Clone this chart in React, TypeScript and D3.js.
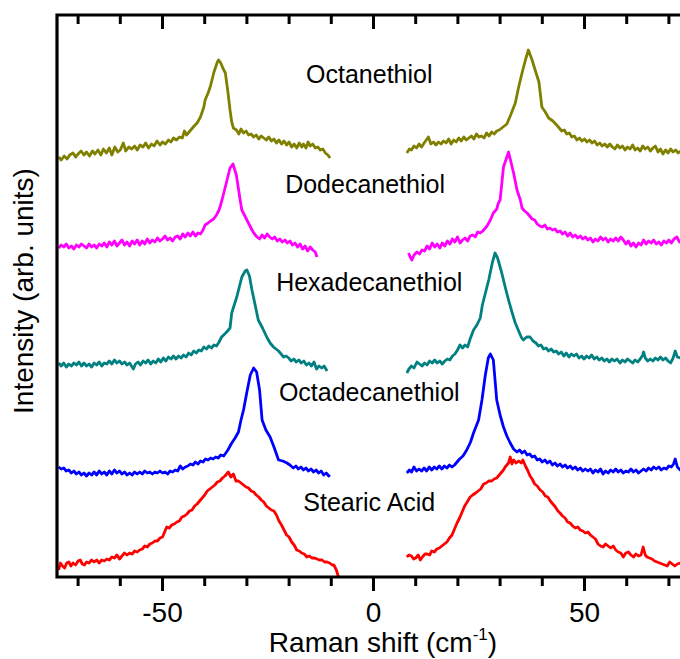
import { useEffect, useRef } from "react";
import * as d3 from "d3";

// [Raman shift (cm-1), intensity (arb.)]
const octanethiolLeft = [
  [-74.6, 420], [-74, 417], [-73.3, 421], [-72.6, 418], [-72, 422], [-71.2, 424], [-70.6, 420], [-70, 423],
  [-69.3, 426], [-68.6, 422], [-68, 425], [-67.3, 421], [-66.6, 426], [-66, 423], [-65.3, 427], [-64.6, 422],
  [-64, 428], [-63.3, 424], [-62.6, 429], [-62, 422], [-61.3, 430], [-60.6, 425], [-60, 427], [-59.3, 434],
  [-58.7, 426], [-58, 430], [-57.3, 428], [-56.6, 431], [-56, 427], [-55.3, 432], [-54.6, 430], [-54, 434],
  [-53.3, 429], [-52.6, 433], [-52, 431], [-51.3, 436], [-50.6, 432], [-50, 435], [-49.3, 433], [-48.6, 437],
  [-48, 435], [-47.4, 439], [-46.7, 437], [-46, 440], [-45.3, 439], [-44.8, 446], [-44.3, 442], [-43.5, 446],
  [-42.5, 451], [-41.8, 454], [-41, 460], [-40.2, 470], [-39.9, 477], [-39.2, 484], [-38.7, 490], [-37.8, 505],
  [-37, 515], [-36.7, 517], [-36.2, 514], [-35.6, 508], [-35.1, 504], [-34.5, 485], [-34, 467], [-33.6, 455],
  [-33.2, 449], [-32.5, 447], [-31.9, 443], [-31.4, 448], [-30.8, 444], [-30.2, 446], [-29.6, 442], [-29, 443],
  [-28.4, 440], [-27.8, 442], [-27.2, 438], [-26.6, 441], [-26, 439], [-25.4, 437], [-24.8, 440], [-24.2, 436],
  [-23.6, 438], [-23, 434], [-22.4, 437], [-21.8, 433], [-21.2, 436], [-20.6, 432], [-20, 435], [-19.4, 430],
  [-18.8, 433], [-18.2, 429], [-17.6, 434], [-17, 430], [-16.6, 433], [-16, 429], [-15.5, 435], [-15, 431],
  [-14.4, 433], [-13.8, 429], [-13.2, 430], [-12.6, 427], [-12, 428], [-11.4, 424], [-10.8, 422], [-10.3, 419],
];
const octanethiolRight = [
  [7.9, 424], [8.5, 428], [9, 427], [9.6, 431], [10.2, 429], [10.8, 433], [11.4, 430], [12, 434], [12.5, 437],
  [13, 440], [13.6, 433], [14.2, 435], [14.8, 432], [15.4, 435], [16, 433], [16.6, 436], [17.2, 434], [17.8, 438],
  [18.4, 433], [19, 437], [19.6, 435], [20.2, 439], [20.8, 436], [21.4, 440], [22, 437], [22.6, 439], [23.2, 441],
  [23.8, 438], [24.4, 443], [25, 440], [25.6, 441], [26.2, 439], [26.8, 444], [27.4, 441], [28, 445], [28.6, 443],
  [29.2, 446], [29.8, 447], [30.4, 449], [31, 451], [31.6, 453], [32.5, 462], [33.6, 474], [34.4, 490],
  [35.2, 504], [36, 517], [36.7, 527], [37.5, 518], [38.3, 507], [39.2, 495], [39.9, 470], [40.7, 465],
  [41.5, 459], [42.5, 456], [43.4, 452], [44, 449], [44.6, 446], [45.2, 447], [45.8, 443], [46.4, 444],
  [47, 440], [47.6, 441], [48.2, 437], [48.8, 439], [49.4, 436], [50, 438], [50.6, 435], [51.2, 437],
  [51.8, 434], [52.4, 436], [53, 432], [53.6, 434], [54.2, 431], [54.8, 433], [55.4, 430], [56, 433],
  [56.6, 430], [57.2, 428], [57.8, 432], [58.4, 429], [59, 431], [59.6, 427], [60.2, 430], [60.8, 428],
  [61.4, 432], [62, 427], [62.6, 429], [63.2, 426], [63.8, 431], [64.4, 428], [65, 430], [65.6, 426],
  [66.2, 429], [66.8, 431], [67.4, 425], [68, 428], [68.6, 423], [69.2, 427], [69.8, 424], [70.4, 428],
  [71, 425], [71.6, 427], [72.2, 424], [72.8, 426], [73.4, 423], [74, 425],
];

const dodecanethiolLeft = [
  [-74.6, 329], [-74, 332], [-73.4, 330], [-72.8, 333], [-72.2, 329], [-71.6, 331], [-71, 328], [-70.4, 332],
  [-69.8, 330], [-69.2, 333], [-68.6, 331], [-68, 329], [-67.4, 333], [-66.8, 330], [-66.2, 332], [-65.6, 329],
  [-65, 333], [-64.4, 331], [-63.8, 334], [-63.2, 330], [-62.6, 335], [-62, 332], [-61.4, 336], [-60.8, 331],
  [-60.2, 334], [-59.6, 337], [-59, 332], [-58.4, 335], [-57.8, 331], [-57.2, 336], [-56.6, 333], [-56, 337],
  [-55.4, 332], [-54.8, 336], [-54.2, 333], [-53.6, 338], [-53, 334], [-52.4, 337], [-51.8, 335], [-51.2, 339],
  [-50.6, 336], [-50, 338], [-49.4, 341], [-48.8, 337], [-48.2, 339], [-47.6, 336], [-47, 340], [-46.4, 341],
  [-45.8, 338], [-45.2, 343], [-44.6, 340], [-44, 344], [-43.4, 341], [-42.8, 345], [-42.2, 341], [-41.6, 344],
  [-41, 343], [-40.4, 347], [-39.9, 352], [-39.2, 354], [-38.6, 356], [-37.9, 358], [-37.2, 362], [-36.6, 367],
  [-36.3, 371], [-35.9, 377], [-35, 392], [-34, 409], [-33.3, 413], [-32.5, 402], [-31.6, 377], [-31.2, 367],
  [-30.6, 362], [-30, 357], [-29.4, 352], [-28.8, 347], [-28.2, 343], [-27.6, 340], [-27, 338], [-26.4, 342],
  [-25.8, 339], [-25.2, 343], [-24.6, 340], [-24, 338], [-23.4, 340], [-22.8, 336], [-22.2, 338], [-21.6, 335],
  [-21, 337], [-20.4, 334], [-19.8, 336], [-19.2, 332], [-18.6, 334], [-18, 330], [-17.4, 333], [-16.8, 328],
  [-16.2, 331], [-15.6, 326], [-15, 330], [-14.4, 327], [-13.8, 325], [-13.4, 320],
];
const dodecanethiolRight = [
  [8.3, 324], [8.7, 320], [9.1, 317], [9.6, 322], [10.3, 325], [10.9, 323], [11.5, 327], [12.1, 326],
  [12.7, 331], [13.3, 328], [13.9, 334], [14.5, 330], [15.1, 333], [15.7, 329], [16.3, 334], [16.9, 331],
  [17.5, 336], [18.1, 333], [18.7, 338], [19.3, 335], [19.9, 340], [20.5, 334], [21.1, 337], [21.7, 339],
  [22.3, 336], [22.9, 341], [23.5, 342], [24.1, 340], [24.7, 345], [25.3, 344], [25.9, 346], [26.5, 349],
  [26.9, 351], [27.7, 357], [28.4, 364], [29.2, 368], [29.6, 374], [30, 377], [30.8, 410], [32, 425],
  [33.2, 404], [34, 387], [34.8, 377], [35.2, 369], [35.8, 366], [36.4, 364], [37, 361], [37.6, 358],
  [38.2, 357], [38.8, 353], [39.4, 351], [40, 350], [40.6, 352], [41.2, 348], [41.8, 349], [42.4, 347],
  [43, 348], [43.6, 345], [44.2, 346], [44.8, 343], [45.4, 345], [46, 341], [46.6, 344], [47.2, 340],
  [47.8, 342], [48.4, 339], [49, 341], [49.6, 338], [50.2, 340], [50.8, 337], [51.4, 339], [52, 335],
  [52.6, 338], [53.2, 336], [53.8, 340], [54.4, 337], [55, 339], [55.6, 335], [56.2, 338], [56.8, 336],
  [57.4, 339], [58, 336], [58.6, 340], [59.2, 337], [59.8, 333], [60.4, 336], [61, 331], [61.6, 334],
  [62.2, 330], [62.8, 334], [63.4, 332], [64, 337], [64.6, 333], [65.2, 336], [65.8, 334], [66.4, 337],
  [67, 333], [67.6, 335], [68.2, 332], [68.8, 336], [69.4, 334], [70, 337], [70.6, 334], [71.2, 338],
  [71.9, 340], [72.5, 335], [73.2, 337], [74, 336],
];

const hexadecanethiolLeft = [
  [-74.6, 214], [-74, 211], [-73.4, 214], [-72.8, 210], [-72.2, 213], [-71.6, 211], [-71, 214], [-70.4, 212],
  [-69.8, 215], [-69.2, 211], [-68.6, 214], [-68, 211], [-67.4, 213], [-66.8, 210], [-66.2, 214], [-65.6, 212],
  [-65, 215], [-64.4, 211], [-63.8, 214], [-63.2, 213], [-62.6, 216], [-62, 213], [-61.4, 217], [-60.8, 214],
  [-60.2, 216], [-59.6, 213], [-59, 215], [-58.4, 212], [-57.8, 214], [-57.2, 210], [-56.9, 208], [-56.4, 213],
  [-55.8, 215], [-55.2, 212], [-54.6, 216], [-54, 214], [-53.4, 217], [-52.8, 213], [-52.2, 216], [-51.6, 214],
  [-51, 218], [-50.4, 215], [-49.8, 219], [-49.2, 216], [-48.6, 220], [-48, 218], [-47.4, 221], [-46.8, 218],
  [-46.2, 221], [-45.6, 219], [-45, 222], [-44.4, 220], [-43.8, 224], [-43.2, 222], [-42.6, 226], [-42, 224],
  [-41.4, 227], [-40.8, 226], [-40.2, 230], [-39.6, 228], [-39, 231], [-38.4, 229], [-37.8, 232], [-37.2, 231],
  [-36.6, 235], [-36, 240], [-35.5, 242], [-34.8, 245], [-34, 249], [-33.6, 264], [-32.4, 280], [-31.2, 300],
  [-30.4, 306], [-30, 307], [-29.4, 301], [-28.8, 287], [-27.3, 257], [-26.3, 249], [-25.3, 240], [-24.5, 234],
  [-23.7, 230], [-23.1, 228], [-22.5, 226], [-21.9, 223], [-21.3, 220], [-20.7, 221], [-20.1, 219], [-19.5, 216],
  [-18.9, 218], [-18.3, 215], [-17.7, 217], [-17.1, 214], [-16.5, 216], [-15.9, 212], [-15.3, 214], [-14.7, 211],
  [-14.1, 215], [-13.5, 208], [-12.9, 211], [-12.3, 209], [-11.7, 211], [-11, 206],
];
const hexadecanethiolRight = [
  [7.9, 204], [8.4, 208], [9, 211], [9.6, 209], [10.3, 215], [10.9, 213], [11.5, 211], [12.1, 214], [12.7, 212],
  [13.3, 216], [13.9, 214], [14.5, 217], [15.1, 214], [15.7, 216], [16.3, 213], [16.9, 216], [17.5, 218],
  [18.1, 217], [18.7, 221], [19.3, 223], [19.9, 227], [20.5, 232], [21.1, 229], [21.7, 232], [22.3, 230],
  [22.9, 238], [23.7, 247], [24.5, 252], [25.3, 259], [25.8, 272], [26.1, 277], [26.7, 287], [27.3, 297],
  [28.2, 315], [28.8, 324], [29.4, 319], [30.4, 304], [31.2, 290], [32, 277], [32.8, 265], [33.6, 254],
  [34.4, 246], [35, 240], [35.5, 237], [36.3, 240], [37.1, 240], [37.8, 236], [38.5, 234], [39.1, 231],
  [39.7, 232], [40.3, 228], [40.9, 229], [41.5, 226], [42.1, 228], [42.7, 225], [43.3, 226], [43.9, 223],
  [44.5, 225], [45.1, 221], [45.7, 224], [46.3, 220], [46.9, 223], [47.5, 221], [48.1, 223], [48.7, 219],
  [49.3, 221], [49.9, 218], [50.5, 221], [51.1, 219], [51.7, 222], [52.3, 218], [52.9, 220], [53.5, 217],
  [54.1, 219], [54.7, 216], [55.3, 218], [55.9, 215], [56.5, 218], [57.1, 216], [57.7, 218], [58.4, 214],
  [59, 217], [59.6, 215], [60.2, 218], [60.8, 216], [61.4, 214], [62, 217], [62.6, 215], [63.2, 218],
  [63.8, 222], [64, 225], [64.4, 219], [65, 216], [65.6, 218], [66.2, 216], [66.8, 219], [67.4, 217],
  [68, 220], [68.6, 217], [69.2, 219], [69.8, 216], [70.4, 214], [71, 219], [71.5, 226], [72, 220],
  [72.7, 219], [73.3, 222], [74, 220],
];

const octadecanethiolLeft = [
  [-74.6, 110], [-74, 108], [-73.4, 109], [-72.8, 106], [-72.2, 107], [-71.6, 104], [-71, 106], [-70.4, 103],
  [-69.8, 105], [-69.2, 102], [-68.6, 104], [-68, 101], [-67.4, 104], [-66.8, 102], [-66.2, 105], [-65.6, 102],
  [-65, 106], [-64.4, 103], [-63.8, 105], [-63.2, 102], [-62.6, 106], [-62, 103], [-61.4, 107], [-60.8, 104],
  [-60.2, 106], [-59.6, 103], [-59, 105], [-58.4, 102], [-57.8, 104], [-57.2, 102], [-56.6, 105], [-56, 103],
  [-55.4, 105], [-54.8, 103], [-54.2, 106], [-53.6, 104], [-53, 105], [-52.4, 103], [-51.8, 105], [-51.2, 104],
  [-50.6, 106], [-50, 104], [-49.4, 105], [-48.8, 103], [-48.2, 106], [-47.6, 105], [-47, 107], [-46.4, 106],
  [-45.8, 111], [-45.2, 108], [-44.6, 110], [-44, 111], [-43.4, 113], [-42.8, 112], [-42.2, 115], [-41.6, 113],
  [-41, 116], [-40.4, 115], [-39.8, 118], [-39.2, 117], [-38.6, 119], [-38, 118], [-37.4, 120], [-36.8, 119],
  [-36.2, 122], [-35.5, 121], [-35, 124], [-34.5, 127], [-33.6, 134], [-32.8, 139], [-32, 145], [-31.4, 157],
  [-30.8, 167], [-30, 185], [-29.2, 202], [-28.4, 209], [-27.7, 205], [-27, 187], [-26.4, 157], [-25.5, 147],
  [-24.5, 140], [-23.5, 129], [-22.5, 117], [-21.5, 116], [-20.5, 114], [-19.8, 112], [-19, 109], [-18.4, 111],
  [-17.8, 108], [-17.2, 110], [-16.6, 107], [-16, 109], [-15.4, 106], [-14.8, 108], [-14.2, 105], [-13.6, 107],
  [-13, 104], [-12.4, 106], [-11.8, 102], [-11.2, 104], [-10.6, 101], [-10.3, 102],
];
const octadecanethiolRight = [
  [7.9, 104], [8.5, 107], [9, 105], [9.6, 110], [10.2, 106], [10.8, 108], [11.4, 106], [12, 109], [12.6, 106],
  [13.2, 110], [13.8, 107], [14.4, 110], [15, 108], [15.6, 111], [16.2, 108], [16.8, 111], [17.4, 109],
  [18, 112], [18.6, 110], [19.2, 112], [19.8, 115], [20.4, 118], [21.2, 121], [22.1, 127], [23, 135],
  [23.7, 144], [24.9, 157], [25.7, 177], [26.5, 202], [27.2, 219], [27.7, 223], [28.4, 217], [29.2, 177],
  [30, 162], [30.8, 150], [31.6, 141], [32.4, 134], [33.2, 128], [34, 125], [34.6, 127], [35.2, 124],
  [35.8, 126], [36.4, 122], [37, 123], [37.6, 120], [38.2, 121], [38.8, 117], [39.4, 118], [40, 115],
  [40.6, 117], [41.2, 114], [41.8, 116], [42.4, 112], [43, 114], [43.6, 111], [44.2, 113], [44.8, 110],
  [45.4, 112], [46, 109], [46.6, 111], [47.2, 108], [47.8, 110], [48.4, 107], [49, 109], [49.6, 106],
  [50.2, 108], [50.8, 106], [51.4, 108], [52, 104], [52.6, 107], [53.2, 105], [53.8, 108], [54.4, 103],
  [55, 106], [55.6, 104], [56.2, 107], [56.8, 105], [57.4, 108], [58, 105], [58.6, 107], [59.2, 104],
  [59.8, 106], [60.4, 105], [61, 108], [61.6, 105], [62.2, 107], [62.8, 104], [63.4, 106], [64, 108],
  [64.6, 106], [65.2, 109], [65.8, 107], [66.4, 110], [67, 108], [67.6, 110], [68.2, 107], [68.8, 109],
  [69.4, 108], [70, 111], [70.6, 110], [71.1, 113], [71.5, 118], [72, 110], [72.7, 107], [73.3, 110], [74, 108],
];

const stearicLeft = [
  [-74.6, 7], [-74.2, 14], [-73.7, 11], [-73.2, 9], [-72.7, 14], [-72.2, 15], [-71.7, 11], [-71.2, 14],
  [-70.6, 12], [-70, 16], [-69.5, 17], [-69, 13], [-68.5, 12], [-68, 15], [-67.4, 14], [-66.8, 17], [-66.2, 15],
  [-65.6, 17], [-65, 14], [-64.4, 17], [-63.8, 16], [-63.2, 18], [-62.6, 17], [-62, 20], [-61.4, 19],
  [-60.8, 22], [-60.2, 18], [-59.6, 21], [-59, 24], [-58.4, 22], [-57.8, 24], [-57.2, 23], [-56.6, 26],
  [-56, 25], [-55.4, 27], [-54.8, 28], [-54.2, 31], [-53.6, 30], [-53, 33], [-52.4, 34], [-51.8, 36],
  [-51.2, 36], [-50.6, 39], [-50, 40], [-49.5, 45], [-49, 50], [-48.4, 49], [-47.8, 52], [-47.2, 53],
  [-46.6, 55], [-46, 56], [-45.4, 60], [-44.8, 61], [-44.2, 63], [-43.6, 66], [-43, 67], [-42.4, 71],
  [-41.8, 73], [-41.2, 76], [-40.6, 79], [-40, 82], [-39.4, 86], [-38.8, 88], [-38.2, 90], [-37.6, 92],
  [-37, 95], [-36.4, 96], [-35.8, 99], [-35.2, 101], [-34.4, 105], [-33.8, 100], [-33.2, 103], [-32.6, 96],
  [-32, 96], [-31.4, 94], [-30.8, 92], [-30.2, 90], [-29.6, 89], [-29, 86], [-28.4, 85], [-27.8, 82],
  [-27.2, 80], [-26.6, 77], [-26, 75], [-25.4, 71], [-24.8, 69], [-24.2, 67], [-23.6, 66], [-23, 62],
  [-22.4, 56], [-21.8, 52], [-21.2, 47], [-20.6, 42], [-20, 40], [-19.4, 35], [-18.8, 32], [-18.2, 27],
  [-17.6, 26], [-17, 24], [-16.4, 23], [-15.8, 20], [-15.2, 21], [-14.6, 19], [-14, 19], [-13.4, 18],
  [-12.8, 17], [-12.2, 17], [-11.6, 15], [-11, 15], [-10.4, 14], [-9.8, 12], [-9.4, 12], [-8.8, 7], [-8.3, 0],
];
const stearicRight = [
  [7.9, 20], [8.4, 22], [9, 21], [9.5, 18], [10, 19], [10.6, 22], [11.1, 17], [11.6, 20], [12.2, 23], [12.7, 23],
  [13.3, 22], [13.8, 26], [14.4, 25], [15, 28], [15.6, 29], [16.2, 31], [16.8, 33], [17.4, 35], [18, 39],
  [18.6, 42], [19.2, 48], [19.8, 54], [20.4, 59], [21, 65], [21.6, 71], [22.2, 75], [22.9, 80], [23.5, 82],
  [24.2, 84], [24.8, 86], [25.4, 88], [26.1, 93], [26.7, 94], [27.3, 96], [28, 96], [28.6, 98], [29.2, 99],
  [29.8, 102], [30.4, 105], [30.8, 107], [31.2, 110], [31.6, 112], [32, 114], [32.4, 120], [32.8, 113],
  [33.2, 117], [33.8, 114], [34.4, 116], [35, 114], [35.4, 117], [36, 111], [36.6, 106], [37.1, 101],
  [37.6, 98], [38.2, 93], [38.8, 91], [39.5, 87], [40.1, 85], [40.7, 81], [41.3, 80], [41.9, 76], [42.5, 73],
  [43.1, 70], [43.7, 66], [44.2, 64], [44.8, 61], [45.4, 59], [46, 55], [46.6, 54], [47.2, 51], [47.8, 49],
  [48.4, 50], [49, 47], [49.6, 46], [50.2, 44], [50.8, 45], [51.4, 42], [52, 40], [52.6, 38], [53.2, 33],
  [53.8, 31], [54.4, 30], [55, 33], [55.6, 31], [56.2, 29], [56.8, 31], [57.4, 27], [58, 25], [58.6, 24],
  [59.2, 20], [59.8, 24], [60.4, 25], [61, 22], [61.6, 20], [62.2, 23], [62.8, 21], [63.4, 22], [63.9, 30],
  [64.4, 22], [64.8, 20], [65.4, 19], [66, 18], [66.6, 16], [67.2, 15], [67.8, 14], [68.4, 13], [69, 12],
  [69.6, 11], [70.2, 15], [70.8, 13], [71.4, 11], [72, 13], [72.7, 14], [73.3, 16], [74, 17],
];

const SERIES = [
  { name: "Octanethiol", color: "#808000", segments: [octanethiolLeft, octanethiolRight], labelX: -1, labelY: 494 },
  { name: "Dodecanethiol", color: "#ff00ff", segments: [dodecanethiolLeft, dodecanethiolRight], labelX: -2, labelY: 384 },
  { name: "Hexadecanethiol", color: "#008080", segments: [hexadecanethiolLeft, hexadecanethiolRight], labelX: -1, labelY: 286 },
  { name: "Octadecanethiol", color: "#0000ff", segments: [octadecanethiolLeft, octadecanethiolRight], labelX: -1, labelY: 176 },
  { name: "Stearic Acid", color: "#ff0000", segments: [stearicLeft, stearicRight], labelX: -1, labelY: 66 },
];

const X_DOMAIN = [-75, 75];
const Y_DOMAIN = [0, 562];
const MAJOR_TICKS = [-50, 0, 50];

const FONT = "'Liberation Sans', Arial, sans-serif";

export default function App() {
  const svgRef = useRef(null);
  const width = 680;
  const height = 659;

  useEffect(() => {
    if (!svgRef.current) return;
    const svg = d3.select(svgRef.current);
    svg.selectAll("*").remove();

    const left = 57, right = 690, top = 15, bottom = 577;
    const x = d3.scaleLinear().domain(X_DOMAIN).range([left, right]);
    const y = d3.scaleLinear().domain(Y_DOMAIN).range([bottom, top]);

    const line = d3.line().x((d) => x(d[0])).y((d) => y(d[1]));

    // spectra
    SERIES.forEach((s) => {
      s.segments.forEach((seg) => {
        svg.append("path")
          .attr("d", line(seg))
          .attr("fill", "none")
          .attr("stroke", s.color)
          .attr("stroke-width", 2.8)
          .attr("stroke-linejoin", "round");
      });
      svg.append("text")
        .attr("x", x(s.labelX))
        .attr("y", y(s.labelY))
        .attr("text-anchor", "middle")
        .attr("font-family", FONT)
        .attr("font-size", 25)
        .attr("fill", "#000")
        .text(s.name);
    });

    // frame
    svg.append("path")
      .attr("d", `M${right},${top}H${left}V${bottom}H${right}`)
      .attr("fill", "none")
      .attr("stroke", "#000")
      .attr("stroke-width", 3.2);

    const ticks = x.ticks(15);
    ticks.forEach((t) => {
      const major = MAJOR_TICKS.includes(t);
      const len = major ? 14 : 9;
      svg.append("line")
        .attr("x1", x(t)).attr("x2", x(t))
        .attr("y1", bottom).attr("y2", bottom + len)
        .attr("stroke", "#000").attr("stroke-width", 3);
      svg.append("line")
        .attr("x1", x(t)).attr("x2", x(t))
        .attr("y1", top).attr("y2", top + len)
        .attr("stroke", "#000").attr("stroke-width", 3);
    });

    MAJOR_TICKS.forEach((t) => {
      svg.append("text")
        .attr("x", x(t))
        .attr("y", 622)
        .attr("text-anchor", "middle")
        .attr("font-family", FONT)
        .attr("font-size", 28)
        .text(t < 0 ? `-${Math.abs(t)}` : `${t}`);
    });

    // axis titles
    const xt = svg.append("text")
      .attr("x", 383)
      .attr("y", 652)
      .attr("text-anchor", "middle")
      .attr("font-family", FONT)
      .attr("font-size", 28);
    xt.append("tspan").text("Raman shift (cm");
    xt.append("tspan").attr("font-size", 17).attr("dy", -12).text("-1");
    xt.append("tspan").attr("dy", 12).text(")");

    svg.append("text")
      .attr("transform", "translate(33,291) rotate(-90)")
      .attr("text-anchor", "middle")
      .attr("font-family", FONT)
      .attr("font-size", 28)
      .text("Intensity (arb. units)");
  }, []);

  return (
    <svg
      ref={svgRef}
      width={width}
      height={height}
      style={{ position: "absolute", left: 0, top: 0, background: "#fff" }}
    />
  );
}
